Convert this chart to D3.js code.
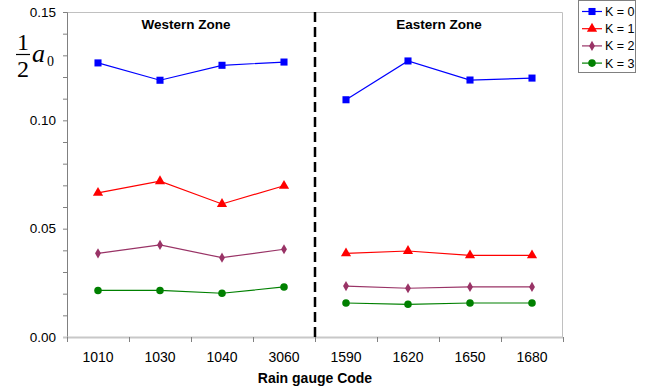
<!DOCTYPE html>
<html>
<head>
<meta charset="utf-8">
<script src="https://cdn.jsdelivr.net/npm/d3@7"></script>
<style>
  body { margin: 0; background: #fff; }
  text { font-family: Arial, "Liberation Sans", sans-serif; }
</style>
</head>
<body>
<script>
// Rain gauge codes, western then eastern zone
const codes = ["1010", "1030", "1040", "3060", "1590", "1620", "1650", "1680"];
const k0 = [0.1265, 0.1185, 0.1254, 0.1269, 0.1095, 0.1274, 0.1186, 0.1195];
const k1 = [0.0665, 0.0719, 0.0614, 0.0698, 0.0386, 0.0397, 0.0377, 0.0377];
const k2 = [0.0386, 0.0425, 0.0366, 0.0405, 0.0235, 0.0225, 0.0231, 0.0231];
const k3 = [0.0215, 0.0215, 0.0202, 0.0231, 0.0157, 0.0151, 0.0157, 0.0157];
const seriesNames = ["K = 0", "K = 1", "K = 2", "K = 3"];
const yTicks = [0, 0.05, 0.10, 0.15];

const series = [
    { name: seriesNames[0], values: k0, color: "#0000ff", symbol: d3.symbolSquare, size: 50 },
    { name: seriesNames[1], values: k1, color: "#ff0000", symbol: d3.symbolTriangle, size: 45 },
    { name: seriesNames[2], values: k2, color: "#993366", symbol: d3.symbolDiamond, size: 30 },
    { name: seriesNames[3], values: k3, color: "#008000", symbol: d3.symbolCircle, size: 45 }
];

const width = 646, height = 390;
const margin = { top: 12, right: 83, bottom: 53, left: 67 };
const innerW = width - margin.left - margin.right;
const innerH = height - margin.top - margin.bottom;

const svg = d3.select("body").append("svg")
    .attr("width", width)
    .attr("height", height);

const g = svg.append("g")
    .attr("transform", "translate(" + margin.left + "," + margin.top + ")");

const x = d3.scaleBand().domain(codes).range([0, innerW]);
const y = d3.scaleLinear().domain([0, 0.15]).range([innerH, 0]);

// plot frame (top and right)
g.append("path")
    .attr("d", `M0,0.5 H${innerW - 0.5} V${innerH}`)
    .attr("fill", "none")
    .attr("stroke", "#c0c0c0")
    .attr("stroke-width", 1);

// y axis with minor ticks
const yAxis = d3.axisLeft(y)
    .tickValues(d3.range(0, 0.1501, 0.01))
    .tickSize(4)
    .tickFormat((d) => {
        return yTicks.some((t) => Math.abs(t - d) < 1e-6) ? d3.format(".2f")(d) : "";
    });

const yg = g.append("g").call(yAxis);
yg.select(".domain").attr("stroke", "#808080");
yg.selectAll(".tick line").attr("stroke", "#808080");
yg.selectAll(".tick text")
    .attr("x", -11)
    .attr("fill", "#000")
    .style("font-size", "13.5px");

// x axis
const xg = g.append("g")
    .attr("transform", "translate(0," + innerH + ")")
    .call(d3.axisBottom(x).tickSize(0).tickPadding(15));
xg.select(".domain").remove();
xg.selectAll(".tick text")
    .attr("fill", "#000")
    .style("font-size", "14px");

g.append("line")
    .attr("x1", -4).attr("x2", innerW)
    .attr("y1", innerH + 0.5).attr("y2", innerH + 0.5)
    .attr("stroke", "#c8c8c8")
    .attr("stroke-width", 2);

// tick marks between categories
g.append("g").selectAll("line")
    .data(d3.range(codes.length + 1))
    .join("line")
    .attr("x1", (i) => Math.round(i * x.step()) + 0.5)
    .attr("x2", (i) => Math.round(i * x.step()) + 0.5)
    .attr("y1", innerH)
    .attr("y2", innerH + 5)
    .attr("stroke", "#808080");

// zone divider
const divX = x(codes[4]);
g.append("line")
    .attr("x1", divX).attr("x2", divX)
    .attr("y1", 0).attr("y2", innerH)
    .attr("stroke", "#000")
    .attr("stroke-width", 2.5)
    .attr("stroke-dasharray", "10,5");

g.append("text")
    .attr("x", x(codes[2]) - 5)
    .attr("y", 17)
    .attr("text-anchor", "middle")
    .style("font-size", "13.5px")
    .style("font-weight", "bold")
    .text("Western Zone");

g.append("text")
    .attr("x", x(codes[6]))
    .attr("y", 17)
    .attr("text-anchor", "middle")
    .style("font-size", "13.5px")
    .style("font-weight", "bold")
    .text("Eastern Zone");

// lines and markers (western and eastern zones drawn separately)
const line = d3.line()
    .x((d) => x(d.code) + x.bandwidth() / 2)
    .y((d) => y(d.v));

series.forEach((s) => {
    const pts = codes.map((c, i) => ({ code: c, v: s.values[i] }));
    [pts.slice(0, 4), pts.slice(4)].forEach((seg) => {
        g.append("path")
            .datum(seg)
            .attr("fill", "none")
            .attr("stroke", s.color)
            .attr("stroke-width", 1.2)
            .attr("d", line);
    });
    g.append("g").selectAll("path")
        .data(pts)
        .join("path")
        .attr("transform", (d) => "translate(" + (x(d.code) + x.bandwidth() / 2) + "," + y(d.v) + ")")
        .attr("d", d3.symbol().type(s.symbol).size(s.size))
        .attr("fill", s.color);
});

// y label: 1/2 a0
const serif = "'Times New Roman', 'Liberation Serif', serif";
const yl = svg.append("g").attr("transform", "translate(23,0)");
yl.append("text")
    .attr("x", 0).attr("y", 50)
    .attr("text-anchor", "middle")
    .style("font-family", serif)
    .style("font-size", "24px")
    .text("1");
yl.append("line")
    .attr("x1", -7).attr("x2", 7)
    .attr("y1", 54.5).attr("y2", 54.5)
    .attr("stroke", "#000")
    .attr("stroke-width", 1.2);
yl.append("text")
    .attr("x", 0).attr("y", 77)
    .attr("text-anchor", "middle")
    .style("font-family", serif)
    .style("font-size", "24px")
    .text("2");
yl.append("text")
    .attr("x", 9).attr("y", 62)
    .style("font-family", serif)
    .style("font-size", "26px")
    .style("font-style", "italic")
    .text("a");
yl.append("text")
    .attr("x", 24).attr("y", 66)
    .style("font-family", serif)
    .style("font-size", "14px")
    .text("0");

// x axis title
svg.append("text")
    .attr("x", margin.left + innerW / 2)
    .attr("y", 383)
    .attr("text-anchor", "middle")
    .style("font-size", "14px")
    .style("font-weight", "bold")
    .text("Rain gauge Code");

// legend
const lg = svg.append("g").attr("transform", "translate(578,0)");
lg.append("rect")
    .attr("x", 0.5).attr("y", 0.5)
    .attr("width", 57).attr("height", 72)
    .attr("fill", "#fff")
    .attr("stroke", "#808080");

series.forEach((s, i) => {
    const ly = 11.5 + i * 17.2;
    lg.append("line")
        .attr("x1", 4).attr("x2", 24)
        .attr("y1", ly).attr("y2", ly)
        .attr("stroke", s.color)
        .attr("stroke-width", 1.2);
    lg.append("path")
        .attr("transform", "translate(14," + ly + ")")
        .attr("d", d3.symbol().type(s.symbol).size(s.size))
        .attr("fill", s.color);
    lg.append("text")
        .attr("x", 27).attr("y", ly + 4.5)
        .style("font-size", "12.5px")
        .text(s.name);
});
</script>
</body>
</html>
